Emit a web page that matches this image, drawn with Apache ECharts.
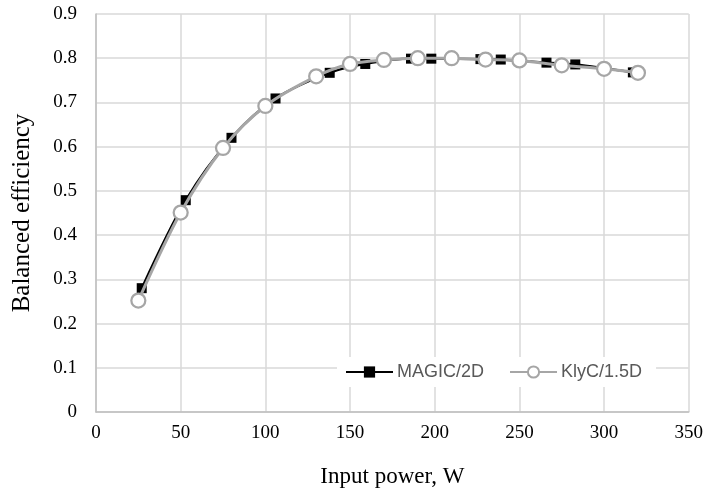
<!DOCTYPE html>
<html>
<head>
<meta charset="utf-8">
<script src="https://cdn.jsdelivr.net/npm/echarts@6/dist/echarts.min.js"></script>
<style>html,body{margin:0;padding:0;background:#fff;}#c{width:706px;height:493px;}</style>
</head>
<body>
<div id="c"></div>
<script>
var magicX = [27, 53, 80, 106, 138, 159, 186, 198, 227, 239, 266, 283, 317];
var magicY = [0.28, 0.479, 0.62, 0.709, 0.767, 0.787, 0.799, 0.799, 0.798, 0.797, 0.79, 0.786, 0.768];
var klycX = [25, 50, 75, 100, 130, 150, 170, 190, 210, 230, 250, 275, 300, 320];
var klycY = [0.252, 0.451, 0.597, 0.692, 0.759, 0.787, 0.796, 0.8, 0.8, 0.797, 0.795, 0.784, 0.776, 0.767];
var seriesNames = ['MAGIC/2D', 'KlyC/1.5D'];
var xName = 'Input power, W';
var yName = 'Balanced efficiency';

function pairs(xs, ys) { return xs.map(function (x, i) { return [x, ys[i]]; }); }

var chart = echarts.init(document.getElementById('c'), null, { renderer: 'canvas' });
var serif = '"Liberation Serif", "Times New Roman", serif';
chart.setOption({
  animation: false,
  backgroundColor: '#fff',
  grid: { left: 96, right: 17, top: 14, bottom: 80 },
  xAxis: {
    type: 'value', min: 0, max: 350, interval: 50,
    name: xName, nameLocation: 'middle', nameGap: 53,
    nameTextStyle: { fontFamily: serif, fontSize: 23, color: '#000' },
    axisLine: { show: true, lineStyle: { color: '#bfbfbf', width: 1.5 } },
    axisTick: { show: false },
    axisLabel: { margin: 12, fontFamily: serif, fontSize: 19, color: '#000' },
    splitLine: { show: true, lineStyle: { color: '#d9d9d9', width: 1.5 } }
  },
  yAxis: {
    type: 'value', min: 0, max: 0.9, interval: 0.1,
    name: yName, nameLocation: 'middle', nameGap: 61, nameRotate: 90,
    nameTextStyle: { fontFamily: serif, fontSize: 25, color: '#000' },
    axisLine: { show: true, lineStyle: { color: '#bfbfbf', width: 1.5 } },
    axisTick: { show: false },
    axisLabel: { margin: 19, fontFamily: serif, fontSize: 19, color: '#000' },
    splitLine: { show: true, lineStyle: { color: '#d9d9d9', width: 1.5 } }
  },
  legend: {
    data: seriesNames,
    left: 337, top: 357,
    padding: [6, 14, 6, 8],
    backgroundColor: '#fff',
    itemWidth: 47, itemHeight: 14, itemGap: 25,
    textStyle: { fontFamily: '"Liberation Sans", Arial, sans-serif', fontSize: 18, color: '#595959', padding: [0, 0, 0, -1] }
  },
  series: [
    {
      name: seriesNames[0], type: 'line', smooth: 0.3,
      data: pairs(magicX, magicY),
      symbol: 'rect', symbolSize: 10,
      itemStyle: { color: '#000' },
      lineStyle: { color: '#000', width: 2.25 },
      z: 2
    },
    {
      name: seriesNames[1], type: 'line', smooth: 0.3,
      data: pairs(klycX, klycY),
      symbol: 'circle', symbolSize: 14,
      itemStyle: { color: '#fff', borderColor: '#a6a6a6', borderWidth: 2.25 },
      lineStyle: { color: '#a6a6a6', width: 3 },
      z: 3
    }
  ]
});
</script>
</body>
</html>
